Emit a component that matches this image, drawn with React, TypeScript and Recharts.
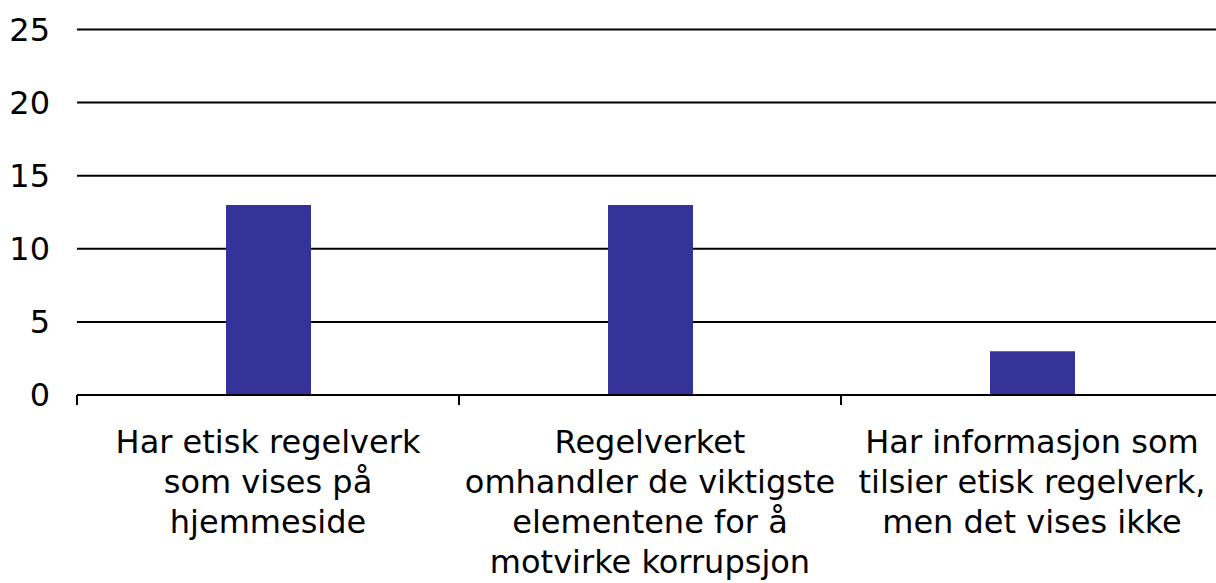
import { BarChart, Bar, XAxis, YAxis, CartesianGrid } from "recharts";

const categories = [
  "Har etisk regelverk\nsom vises på\nhjemmeside",
  "Regelverket\nomhandler de viktigste\nelementene for å\nmotvirke korrupsjon",
  "Har informasjon som\ntilsier etisk regelverk,\nmen det vises ikke",
];
const counts = [13, 13, 3];
const yTicks = [0, 5, 10, 15, 20, 25];

const data = categories.map((category, i) => ({ category, count: counts[i] }));

const FONT = "'DejaVu Sans', Verdana, sans-serif";

// label under each category, plus a tick mark on the left edge of its band
function CategoryTick({ x, y, payload, width, visibleTicksCount }: any) {
  const lines = String(payload.value).split("\n");
  const half = width && visibleTicksCount ? width / visibleTicksCount / 2 : 0;
  return (
    <g>
      <line x1={x - half} x2={x - half} y1={y} y2={y + 10} stroke="#000" strokeWidth={2} />
      <text x={x} y={y} textAnchor="middle" fontFamily={FONT} fontSize={32} fill="#000">
        {lines.map((line, i) => (
          <tspan key={i} x={x} dy={i === 0 ? 58 : 40}>
            {line}
          </tspan>
        ))}
      </text>
    </g>
  );
}

export default function App() {
  return (
    <div style={{ position: "absolute", left: 0, top: 0, width: 1216, height: 583, overflow: "hidden", background: "#fff" }}>
      <BarChart
        width={1223}
        height={583}
        data={data}
        margin={{ top: 29.5, right: 0, left: 0, bottom: 0 }}
        barSize={85}
      >
        <CartesianGrid horizontal vertical={false} stroke="#000" strokeWidth={2} />
        <XAxis
          dataKey="category"
          interval={0}
          height={188}
          axisLine={{ stroke: "#000", strokeWidth: 2 }}
          tickLine={false}
          tickSize={0}
          tickMargin={0}
          tick={<CategoryTick />}
        />
        <YAxis
          domain={[0, 25]}
          ticks={yTicks}
          width={77}
          axisLine={false}
          tickLine={false}
          tickSize={0}
          tickMargin={27}
          tick={{ fill: "#000", fontSize: 32, fontFamily: FONT }}
        />
        <Bar dataKey="count" fill="#333399" isAnimationActive={false} />
      </BarChart>
    </div>
  );
}
